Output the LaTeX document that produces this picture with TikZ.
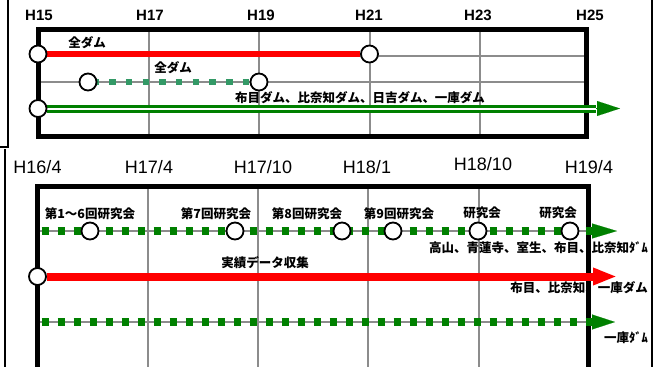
\documentclass[tikz,border=0pt]{standalone}
\usepackage{fontspec}
\newfontfamily\jp{Noto Sans CJK JP}
\newfontfamily\hd{Liberation Sans}
\usetikzlibrary{arrows.meta,backgrounds}
\definecolor{dgreen}{RGB}{0,128,0}
\definecolor{sgreen}{RGB}{51,153,102}
\definecolor{gridgray}{RGB}{140,140,140}
\begin{document}
\begin{tikzpicture}[x=1pt,y=-1pt,
  jl/.style={font=\jp\bfseries\fontsize{12.5}{13}\selectfont, inner sep=0pt},
  hdtop/.style={font=\hd\bfseries\fontsize{15}{15}\selectfont, inner sep=0pt},
  hdbot/.style={font=\hd\fontsize{18}{18}\selectfont, inner sep=0pt},
  frame/.style={line width=5pt},
  thinframe/.style={line width=1.8pt},
  gridline/.style={gridgray, line width=2pt},
  milestone/.style={circle, draw=black, fill=white, line width=1.8pt, minimum size=17pt, inner sep=0pt},
  redbar/.style={red, line width=6pt},
  redarrow/.style={red, line width=8pt, -{Triangle[length=24pt,width=16pt]}},
  sqtop/.style={sgreen, line width=6.5pt, dash pattern=on 6.5pt off 10.2pt, dash phase=5pt},
  sqbot/.style={dgreen, line width=7.5pt, dash pattern=on 7.5pt off 8.5pt, dash phase=12pt},
  dbl/.style={dgreen, line width=3pt, double=white, double distance=2pt},
  gtip/.style={dgreen, line width=0.1pt, -{Triangle[length=23pt,width=15pt]}}
]
\useasboundingbox (0,0) rectangle (657,367);

% ---------- headers ----------
\node[hdtop] (h15) at (39,15) {H15};
\node[hdtop] (h17) at (150,15) {H17};
\node[hdtop] (h19) at (261,15) {H19};
\node[hdtop] (h21) at (369,15) {H21};
\node[hdtop] (h23) at (478,15) {H23};
\node[hdtop] (h25) at (590,15) {H25};

\node[hdbot] (b164) at (37.5,167) {H16/4};
\node[hdbot] (b174) at (149,167) {H17/4};
\node[hdbot] (b1710) at (263,167) {H17/10};
\node[hdbot] (b181) at (367,167) {H18/1};
\node[hdbot] (b1810) at (483,164) {H18/10};
\node[hdbot] (b194) at (589,167) {H19/4};

% ---------- top chart milestones ----------
\node[milestone] (r0) at (38,54) {};
\node[milestone] (r1) at (369.5,54) {};
\node[milestone] (s0) at (88,82) {};
\node[milestone] (s1) at (259,82) {};
\node[milestone] (d0) at (38,108.5) {};
\coordinate (d1) at (596,108.5);
\coordinate (d2) at (620,108.5);

\node[jl] (t1) at (87,43) {全ダム};
\node[jl] (t2) at (173,68) {全ダム};
\node[jl] (t3) at (360,98) {布目ダム、比奈知ダム、日吉ダム、一庫ダム};

% ---------- bottom chart milestones ----------
\coordinate (a0) at (37.5,231);
\coordinate (a1) at (598,231);
\coordinate (a2) at (590,231);
\coordinate (a3) at (617,231);
\node[milestone] (m1) at (90,231) {};
\node[milestone] (m2) at (235,231) {};
\node[milestone] (m3) at (342,231) {};
\node[milestone] (m4) at (393,231) {};
\node[milestone] (m5) at (478,231) {};
\node[milestone] (m6) at (570,231) {};

\node[milestone] (rb0) at (37.5,276.5) {};
\coordinate (rb1) at (617,276.5);

\coordinate (c0) at (37.5,322);
\coordinate (c1) at (598,322);
\coordinate (c2) at (590,322);
\coordinate (c3) at (615,322);

\node[jl] (l1) at (90,214) {第1〜6回研究会};
\node[jl] (l2) at (216,214) {第7回研究会};
\node[jl] (l3) at (307,214) {第8回研究会};
\node[jl] (l4) at (399,214) {第9回研究会};
\node[jl] (l5) at (482,213) {研究会};
\node[jl] (l6) at (558,213) {研究会};
\node[jl, anchor=east] (l7) at (648,248) {高山、青蓮寺、室生、布目、比奈知ﾀﾞﾑ};
\node[jl] (l8) at (265,263) {実績データ収集};
\node[jl, anchor=east] (l9) at (648,288) {布目、比奈知、一庫ダム};
\node[jl, anchor=east] (l10) at (648,338) {一庫ﾀﾞﾑ};

\begin{pgfonlayer}{background}
  % outer table lines
  \draw[thinframe] (8,0) -- (8,147) -- (0,147);
  \draw[thinframe] (5,149) -- (5,367);
  \draw[thinframe] (652,0) -- (652,367);

  % top grid
  \foreach \yy in {55.5,82,108.5}
    \draw[gridline] (38,\yy) -- (586,\yy);
  \foreach \xx in {148.5,259,369.5,480}
    \draw[gridline] (\xx,29) -- (\xx,136);
  \draw[frame] (38,29) rectangle (586,136);

  % bottom grid
  \foreach \yy in {231,276.5,322}
    \draw[gridline] (37.5,\yy) -- (588,\yy);
  \foreach \xx in {147.5,258,368,478.5}
    \draw[gridline] (\xx,186) -- (\xx,367);
  \draw[frame] (37.5,186) rectangle (588,369);

  % top bars
  \draw[redbar] (r0) -- (r1);
  \draw[sqtop] (s0) -- (s1);
  \draw[dbl] (d0) -- (d1);
  \draw[gtip] (d1) -- (d2);

  % bottom bars
  \draw[sqbot] (a0) -- (a1);
  \draw[gtip, -{Triangle[length=25pt,width=15pt]}] (a2) -- (a3);
  \draw[redarrow] (rb0) -- (rb1);
  \draw[sqbot] (c0) -- (c1);
  \draw[gtip, -{Triangle[length=23pt,width=15pt]}] (c2) -- (c3);
\end{pgfonlayer}
\end{tikzpicture}
\end{document}
